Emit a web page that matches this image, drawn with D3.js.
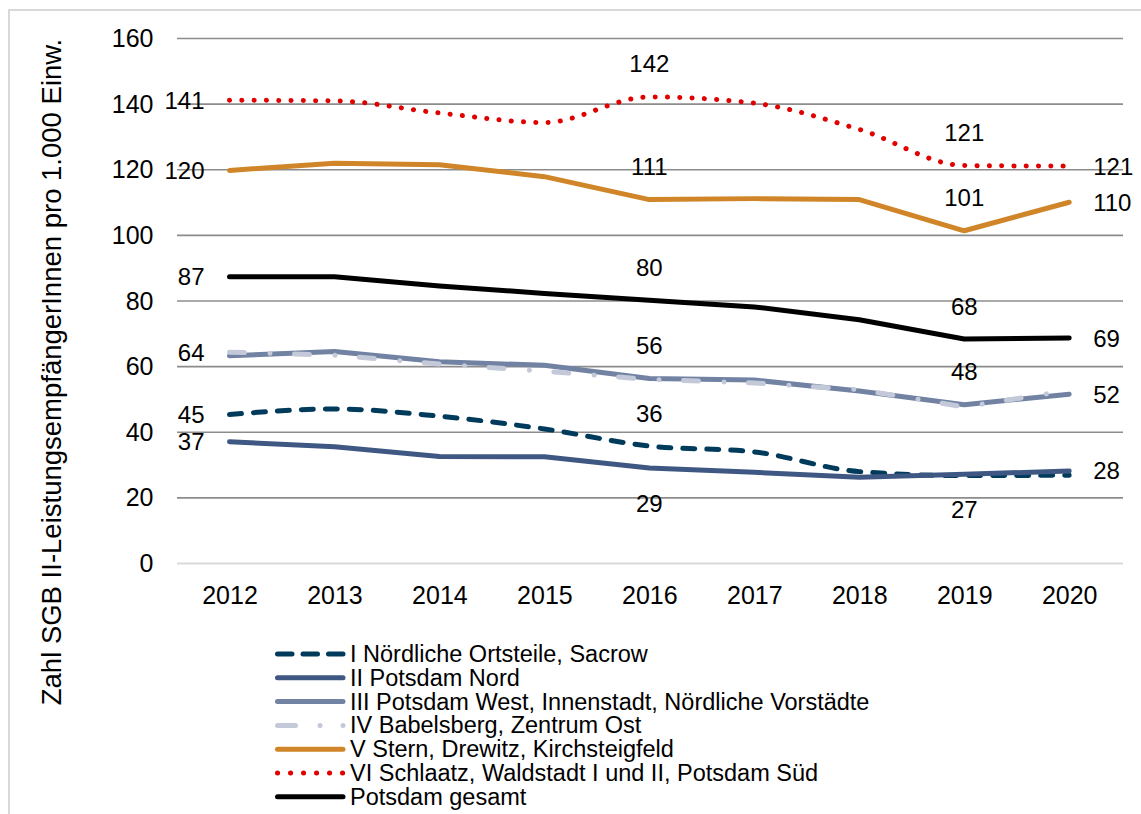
<!DOCTYPE html>
<html><head><meta charset="utf-8">
<script src="https://cdn.jsdelivr.net/npm/d3@7"></script>
<style>
body{margin:0;background:#fff}
text{font-family:"Liberation Sans",Arial,sans-serif;fill:#000}
</style></head>
<body><svg id="chart" width="1141" height="814"></svg>
<script>
// ---- data ----
const years = ["2012","2013","2014","2015","2016","2017","2018","2019","2020"];
const yTicks = [0,20,40,60,80,100,120,140,160];
const seriesNames = [
  "I Nördliche Ortsteile, Sacrow",
  "II Potsdam Nord",
  "III Potsdam West, Innenstadt, Nördliche Vorstädte",
  "IV Babelsberg, Zentrum Ost",
  "V Stern, Drewitz, Kirchsteigfeld",
  "VI Schlaatz, Waldstadt I und II, Potsdam Süd",
  "Potsdam gesamt"
];
const valuesI   = [45.4, 47.1, 44.9, 41.0, 35.8, 34.0, 28.0, 26.8, 26.9];
const valuesII  = [37.1, 35.6, 32.6, 32.5, 29.1, 27.8, 26.3, 27.2, 28.2];
const valuesIII = [63.3, 64.6, 61.5, 60.4, 56.4, 55.9, 52.6, 48.4, 51.6];
const valuesIV  = [64.4, 63.5, 60.8, 58.6, 56.1, 55.0, 53.0, 47.7, 52.8];
const valuesV   = [119.8, 122.0, 121.5, 117.9, 110.9, 111.2, 110.9, 101.4, 110.1];
const valuesVI  = [141.2, 141.0, 137.3, 134.4, 142.2, 140.3, 132.3, 121.3, 121.1];
const valuesTotal = [87.4, 87.4, 84.6, 82.3, 80.2, 78.2, 74.3, 68.4, 68.7];
// which data labels are shown: [series index, year index, placement]
const labelSpec = [
  [5,0,"left"],[5,4,"above"],[5,7,"above"],[5,8,"right"],
  [4,0,"left"],[4,4,"above"],[4,7,"above"],[4,8,"right"],
  [6,0,"left"],[6,4,"above"],[6,7,"above"],[6,8,"right"],
  [3,0,"left"],[2,4,"above"],[2,7,"above"],[2,8,"right"],
  [0,0,"left"],[0,4,"above"],
  [1,0,"left"],[1,4,"below"],[1,7,"below"],[1,8,"right"]
];

const allValues = [valuesI, valuesII, valuesIII, valuesIV, valuesV, valuesVI, valuesTotal];
const styles = [
  {color:"#003b5c", dash:"12,12", legendDash:"14.5,11", curve:true},
  {color:"#3f5883", dash:null, legendDash:null, curve:false},
  {color:"#7282a3", dash:null, legendDash:null, curve:false},
  {color:"#c3c9d9", dash:"15,25.5,0.1,24.4", legendDash:"18,24.5,0.1,22.9,0.1,60", curve:false},
  {color:"#d08628", dash:null, legendDash:null, curve:false},
  {color:"#e00000", dash:"0.1,12.2", legendDash:"0.1,12.9", curve:true},
  {color:"#000000", dash:null, legendDash:null, curve:false}
];

const svg = d3.select("#chart");
const W = 1141, H = 814;

// outer frame
svg.append("rect").attr("x",9).attr("y",10).attr("width",W+20).attr("height",H+20)
  .attr("fill","none").attr("stroke","#d9d9d9").attr("stroke-width",2);

const x = d3.scalePoint().domain(years).range([229.5, 1069.2]);
const y = d3.scaleLinear().domain([0,160]).range([563.5, 38.5]);
const plotL = 177, plotR = 1123;

// gridlines
const grid = svg.append("g");
grid.selectAll("line").data(yTicks).join("line")
  .attr("x1",plotL).attr("x2",plotR)
  .attr("y1",d=>y(d)).attr("y2",d=>y(d))
  .attr("stroke",d=>d===0?"#d9d9d9":"#8c8c8c")
  .attr("stroke-width",d=>d===0?2:1.6);

// y axis labels
const yAxis = d3.axisLeft(y).tickValues(yTicks).tickSize(0).tickPadding(0);
const gy = svg.append("g").attr("transform","translate(153.5,0)").call(yAxis);
gy.select(".domain").remove();
gy.selectAll("text").attr("font-size",25).attr("font-family",'"Liberation Sans",Arial,sans-serif').attr("fill","#000");

// x axis labels
const xAxis = d3.axisBottom(x).tickSize(0).tickPadding(0);
const gx = svg.append("g").attr("transform","translate(0,586)").call(xAxis);
gx.select(".domain").remove();
gx.selectAll("text").attr("font-size",25).attr("font-family",'"Liberation Sans",Arial,sans-serif').attr("fill","#000").attr("dy","0.71em");

// y title
svg.append("text")
  .attr("transform","translate(51,372) rotate(-90)")
  .attr("text-anchor","middle").attr("dominant-baseline","central")
  .attr("font-size",27.5)
  .text("Zahl SGB II-LeistungsempfängerInnen pro 1.000 Einw.");

// lines
allValues.forEach((vals,i)=>{
  const st = styles[i];
  const line = d3.line().x((d,j)=>x(years[j])).y(d=>y(d))
    .curve(st.curve ? d3.curveMonotoneX : d3.curveLinear);
  svg.append("path").datum(vals).attr("d",line)
    .attr("fill","none").attr("stroke",st.color).attr("stroke-width",5)
    .attr("stroke-linecap","round").attr("stroke-linejoin","round")
    .attr("stroke-dasharray",st.dash);
});

// data labels
const lab = svg.append("g");
labelSpec.forEach(([si,yi,pos])=>{
  const v = allValues[si][yi];
  let px = x(years[yi]), py = y(v), anchor="middle";
  if(pos==="left"){px -= 25; anchor="end";}
  else if(pos==="right"){px += 24; anchor="start";}
  else if(pos==="above"){py -= 33;}
  else if(pos==="below"){py += 35;}
  lab.append("text").attr("x",px).attr("y",py)
    .attr("text-anchor",anchor).attr("dominant-baseline","central")
    .attr("font-size",24).text(Math.round(v));
});

// legend
const leg = svg.append("g");
seriesNames.forEach((name,i)=>{
  const ly = 654 + i*23.8;
  const st = styles[i];
  leg.append("line").attr("x1",277.5).attr("x2",343).attr("y1",ly).attr("y2",ly)
    .attr("stroke",st.color).attr("stroke-width",5).attr("stroke-linecap","round")
    .attr("stroke-dasharray",st.legendDash);
  leg.append("text").attr("x",350).attr("y",ly).attr("dominant-baseline","central")
    .attr("font-size",23.5).text(name);
});
</script>
</body></html>
